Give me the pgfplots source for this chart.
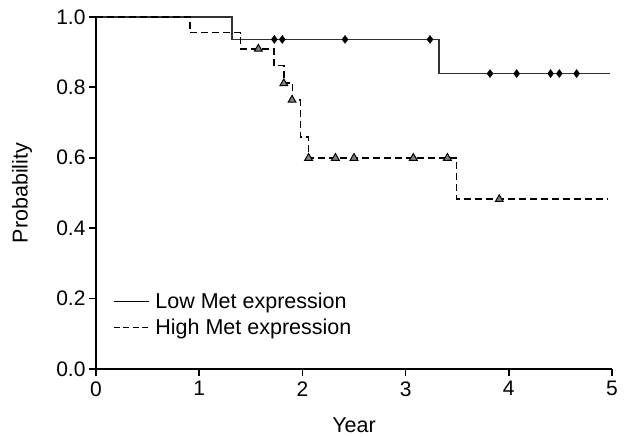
\documentclass[border=0pt]{standalone}
\usepackage{fontspec}
\setmainfont{Liberation Sans}
\usepackage{pgfplots}
\pgfplotsset{compat=1.18}

\definecolor{lowline}{RGB}{50,50,50}
\definecolor{trifill}{RGB}{128,128,128}

\begin{document}
\begin{tikzpicture}
\begin{axis}[
    scale only axis,
    width=516pt, height=352pt,
    xmin=0, xmax=5, ymin=0, ymax=1,
    axis lines*=left,
    axis line style={line width=1.6pt},
    tick style={line width=1.6pt, black},
    tick align=outside,
    major tick length=7pt,
    xtick={0,1,2,3,4,5},
    ytick={0,0.2,0.4,0.6,0.8,1.0},
    yticklabel style={/pgf/number format/fixed, /pgf/number format/fixed zerofill, /pgf/number format/precision=1},
    xticklabel style={yshift=-2pt},
    /pgf/number format/assume math mode=true,
    tick label style={font=\fontsize{21}{24}\selectfont},
    label style={font=\fontsize{21.5}{25}\selectfont},
    xlabel={Year},
    ylabel={Probability},
    xlabel style={at={(axis description cs:0.5,-0.159)}, anchor=center},
    ylabel style={at={(axis description cs:-0.143,0.5)}, anchor=center},
    clip=false,
    legend style={at={(axis description cs:0.027,0.228)}, anchor=north west,
        draw=none, fill=none, font=\fontsize{21.5}{25}\selectfont,
        row sep=5pt, column sep=4pt},
    legend cell align=left,
    legend image code/.code={\draw[#1] (0pt,0pt) -- (35pt,0pt);},
]

% Low Met expression (step curve)
\addplot[const plot, line width=1.8pt, lowline, forget plot] coordinates {
    (0,1) (1.315,0.936) (3.324,0.839) (4.98,0.839)
};
% Low censored
\addplot[only marks, mark=diamond*, mark size=4pt, black, forget plot] coordinates {
    (1.728,0.936) (1.805,0.936) (2.413,0.936) (3.236,0.936)
    (3.818,0.839) (4.076,0.839) (4.405,0.839) (4.49,0.839) (4.657,0.839)
};

% High Met expression (step curve)
\addplot[const plot, line width=1.5pt, black, dash pattern=on 7pt off 4pt, forget plot] coordinates {
    (0,1) (0.91,0.955) (1.40,0.909) (1.725,0.862) (1.82,0.812)
    (1.905,0.764) (1.98,0.659) (2.06,0.599) (3.495,0.482) (4.957,0.482)
};
% High censored
\addplot[only marks, mark=triangle*, mark size=4.5pt, mark options={fill=trifill, draw=black, line width=1pt}, forget plot] coordinates {
    (1.573,0.909) (1.82,0.811) (1.90,0.764) (2.06,0.599) (2.32,0.599)
    (2.50,0.599) (3.075,0.599) (3.405,0.599) (3.908,0.482)
};

\addlegendimage{line width=1.3pt, black}
\addlegendentry{Low Met expression}
\addlegendimage{line width=1.3pt, black, dash pattern=on 6pt off 3.5pt}
\addlegendentry{High Met expression}

\coordinate (bbl) at (rel axis cs:-0.186,-0.193);
\coordinate (btr) at (rel axis cs:1.031,1.048);
\end{axis}
\pgfresetboundingbox
\path (bbl) rectangle (btr);
\end{tikzpicture}
\end{document}
